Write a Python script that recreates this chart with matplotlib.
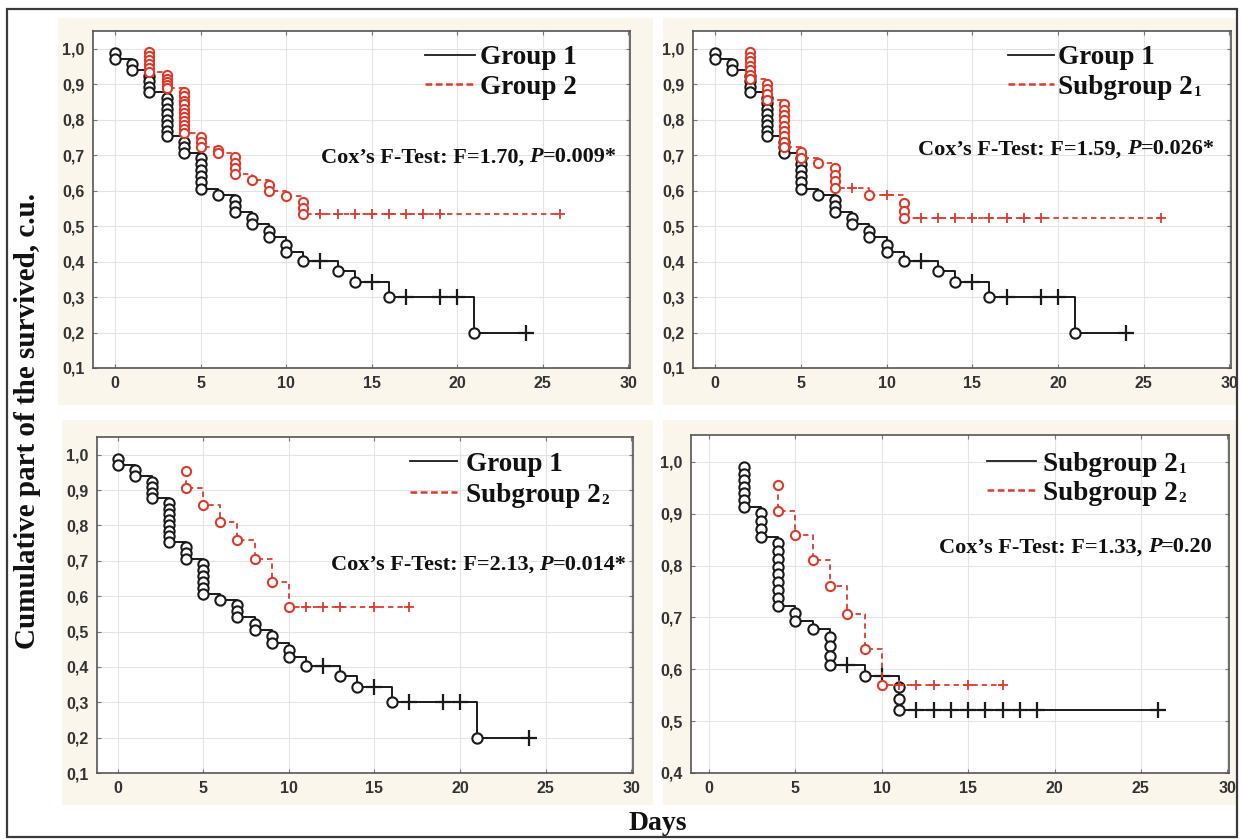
import matplotlib
matplotlib.use("Agg")
import matplotlib.pyplot as plt
from matplotlib import font_manager
from matplotlib.lines import Line2D
from matplotlib.patches import Rectangle

# ---------------- data ----------------
g1_event_t = [0, 0, 1, 1, 2, 2, 2, 2, 3, 3, 3, 3, 3, 3, 3, 3, 4, 4, 4,
              5, 5, 5, 5, 5, 5, 6, 7, 7, 7, 8, 8, 9, 9, 10, 10, 11, 13, 14, 16, 21]
g1_event_s = [0.987, 0.970, 0.956, 0.939, 0.923, 0.908, 0.892, 0.877,
              0.862, 0.846, 0.831, 0.815, 0.800, 0.785, 0.769, 0.754,
              0.738, 0.722, 0.706, 0.691, 0.674, 0.657, 0.640, 0.623, 0.606,
              0.588, 0.574, 0.557, 0.540, 0.522, 0.505, 0.486, 0.468,
              0.447, 0.427, 0.402, 0.373, 0.343, 0.300, 0.200]
g1_cens_t = [12, 15, 17, 19, 20, 24]
g1_cens_s = [0.402, 0.343, 0.300, 0.300, 0.300, 0.200]

g2_event_t = [2, 2, 2, 2, 2, 2, 3, 3, 3, 3, 3, 4, 4, 4, 4, 4, 4, 4, 4, 4, 4, 4,
              5, 5, 5, 6, 6, 7, 7, 7, 7, 8, 9, 9, 10, 11, 11, 11]
g2_event_s = [0.991, 0.980, 0.969, 0.957, 0.946, 0.935,
              0.925, 0.916, 0.907, 0.897, 0.888,
              0.877, 0.866, 0.854, 0.843, 0.831, 0.820, 0.808, 0.797, 0.785, 0.774, 0.763,
              0.752, 0.738, 0.724, 0.715, 0.705, 0.694, 0.679, 0.664, 0.648,
              0.630, 0.615, 0.600, 0.584, 0.569, 0.551, 0.533]
g2_cens_t = [12, 13, 14, 15, 16, 17, 18, 19, 26]
g2_cens_s = [0.533, 0.533, 0.533, 0.533, 0.533, 0.533, 0.533, 0.533, 0.533]

s21_event_t = [2, 2, 2, 2, 2, 2, 2, 3, 3, 3, 3, 4, 4, 4, 4, 4, 4, 4, 4, 4,
               5, 5, 6, 7, 7, 7, 7, 9, 11, 11, 11]
s21_event_s = [0.990, 0.977, 0.965, 0.952, 0.940, 0.927, 0.914,
               0.901, 0.886, 0.871, 0.856,
               0.843, 0.828, 0.813, 0.798, 0.783, 0.768, 0.753, 0.738, 0.723,
               0.709, 0.693, 0.677, 0.663, 0.645, 0.626, 0.608, 0.588,
               0.566, 0.543, 0.522]
s21_cens_t = [8, 10, 12, 13, 14, 15, 16, 17, 18, 19, 26]
s21_cens_s = [0.608, 0.588, 0.522, 0.522, 0.522, 0.522, 0.522, 0.522, 0.522, 0.522, 0.522]

s22_event_t = [4, 4, 5, 6, 7, 8, 9, 10]
s22_event_s = [0.955, 0.906, 0.859, 0.810, 0.760, 0.706, 0.640, 0.570]
s22_cens_t = [11, 12, 13, 15, 17]
s22_cens_s = [0.570, 0.570, 0.570, 0.570, 0.570]

x_ticks = [0, 5, 10, 15, 20, 25, 30]
x_tick_labels = ["0", "5", "10", "15", "20", "25", "30"]
y_ticks_full = [0.1, 0.2, 0.3, 0.4, 0.5, 0.6, 0.7, 0.8, 0.9, 1.0]
y_labels_full = ["0,1", "0,2", "0,3", "0,4", "0,5", "0,6", "0,7", "0,8", "0,9", "1,0"]
y_ticks_br = [0.4, 0.5, 0.6, 0.7, 0.8, 0.9, 1.0]
y_labels_br = ["0,4", "0,5", "0,6", "0,7", "0,8", "0,9", "1,0"]

cox_f = ["1.70", "1.59", "2.13", "1.33"]
cox_p = ["0.009*", "0.026*", "0.014*", "0.20"]

# ---------------- styling ----------------
W, H = 1242, 840
BLACK = "#1a1a1a"
RED = "#dc3b2c"
BEIGE = "#faf6ec"
SERIF = "Liberation Serif"
avail = {f.name for f in font_manager.fontManager.ttflist}
TICKFONT = "Liberation Sans Narrow" if "Liberation Sans Narrow" in avail else "Liberation Sans"

fig = plt.figure(figsize=(W / 100, H / 100), dpi=100)
fig.patch.set_facecolor("white")


def fx(x):
    return x / W


def fy(y):
    return 1 - y / H


# outer border
fig.patches.append(Rectangle((fx(7), fy(837)), fx(1237) - fx(7), fy(9) - fy(837),
                             transform=fig.transFigure, fill=False,
                             edgecolor="#3a3a3a", lw=1.6, zorder=-2))
# beige panels
for (x0, y0, x1, y1) in [(58, 18, 653, 405), (663, 18, 1236, 405),
                         (62, 420, 653, 805), (663, 420, 1236, 805)]:
    fig.patches.append(Rectangle((fx(x0), fy(y1)), fx(x1) - fx(x0), fy(y0) - fy(y1),
                                 transform=fig.transFigure, facecolor=BEIGE,
                                 edgecolor="none", zorder=-3))


def make_axes(left, right, top, bottom, xlim, ylim, yt, ytl):
    ax = fig.add_axes([fx(left), fy(bottom), fx(right) - fx(left), fy(top) - fy(bottom)])
    ax.set_zorder(1)
    ax.set_facecolor("white")
    ax.set_xlim(*xlim)
    ax.set_ylim(*ylim)
    ax.set_xticks(x_ticks)
    ax.set_xticklabels(x_tick_labels)
    ax.set_yticks(yt)
    ax.set_yticklabels(ytl)
    ax.grid(True, color="#e3e3e3", lw=0.8)
    ax.set_axisbelow(True)
    ax.tick_params(direction="in", length=3, width=0.8, color="#777777",
                   top=True, right=True, labelsize=11.5, labelcolor="#333333", pad=6)
    for lab in ax.get_xticklabels() + ax.get_yticklabels():
        lab.set_fontfamily(TICKFONT)
        lab.set_fontweight("bold")
    for sp in ax.spines.values():
        sp.set_color("#555555")
        sp.set_linewidth(1.2)
    return ax


def km(ax, ev_t, ev_s, ce_t, ce_s, color, dashed, ms, pms, pmew, z):
    pts = sorted(zip(list(ev_t) + list(ce_t), list(ev_s) + list(ce_s)),
                 key=lambda p: (p[0], -p[1]))
    tt = [p[0] for p in pts]
    ss = [p[1] for p in pts]
    if dashed:
        ax.plot(tt, ss, drawstyle="steps-post", color=color, lw=1.3,
                dashes=(3, 2.2), zorder=z)
    else:
        ax.plot(tt, ss, drawstyle="steps-post", color=color, lw=1.4, zorder=z)
    ax.plot(ev_t, ev_s, "o", ms=ms, mfc="white", mec=color, mew=1.5,
            ls="none", zorder=z + 1)
    ax.plot(ce_t, ce_s, "+", ms=pms, mec=color, mew=pmew, ls="none", zorder=z + 1)


renderer = fig.canvas.get_renderer()


def text_width(t):
    return t.get_window_extent(renderer).width


def legend(x_line0, x_line1, x_text, y1, y2, lab1, sub1, lab2, sub2):
    size = 19.5
    for (yy, lab, sub, dashed) in [(y1, lab1, sub1, False), (y2, lab2, sub2, True)]:
        if dashed:
            ln = Line2D([fx(x_line0), fx(x_line1)], [fy(yy), fy(yy)], transform=fig.transFigure,
                        color=RED, lw=1.8, dashes=(2.7, 1.4), zorder=5)
        else:
            ln = Line2D([fx(x_line0), fx(x_line1)], [fy(yy), fy(yy)], transform=fig.transFigure,
                        color=BLACK, lw=1.3, zorder=5)
        fig.lines.append(ln)
        t = fig.text(fx(x_text), fy(yy), lab, ha="left", va="center_baseline",
                     fontsize=size, fontweight="bold", family=SERIF, color="#111111", zorder=5)
        if sub:
            w = text_width(t)
            fig.text(fx(x_text + w + 1), fy(yy + 7), sub, ha="left", va="center_baseline",
                     fontsize=11, fontweight="bold", family=SERIF, color="#111111", zorder=5)


def cox(x_right, y, f, p):
    size = 16
    pieces = [("Cox\u2019s F-Test: F=" + f + ", ", "normal"), ("P", "italic"), ("=" + p, "normal")]
    objs = []
    for s, style in pieces:
        objs.append(fig.text(0, fy(y), s, ha="left", va="center_baseline", fontsize=size,
                             fontweight="bold", fontstyle=style, family=SERIF,
                             color="#111111", zorder=5))
    widths = [text_width(o) for o in objs]
    x = x_right - sum(widths)
    for o, w in zip(objs, widths):
        o.set_x(fx(x))
        x += w


# ---------------- panels ----------------
BMS, RMS = 7.4, 6.6
ax1 = make_axes(93, 630, 31, 368, (-1.3, 30.1), (0.1, 1.05), y_ticks_full, y_labels_full)
km(ax1, g1_event_t, g1_event_s, g1_cens_t, g1_cens_s, BLACK, False, BMS, 11, 1.6, 3)
km(ax1, g2_event_t, g2_event_s, g2_cens_t, g2_cens_s, RED, True, RMS, 6.5, 1.3, 5)

ax2 = make_axes(693, 1231, 31, 368, (-1.3, 30.1), (0.1, 1.05), y_ticks_full, y_labels_full)
km(ax2, g1_event_t, g1_event_s, g1_cens_t, g1_cens_s, BLACK, False, BMS, 11, 1.6, 3)
km(ax2, s21_event_t, s21_event_s, s21_cens_t, s21_cens_s, RED, True, RMS, 6.5, 1.3, 5)

ax3 = make_axes(97, 633, 437, 773, (-1.2, 30.1), (0.1, 1.05), y_ticks_full, y_labels_full)
km(ax3, g1_event_t, g1_event_s, g1_cens_t, g1_cens_s, BLACK, False, BMS, 11, 1.6, 3)
km(ax3, s22_event_t, s22_event_s, s22_cens_t, s22_cens_s, RED, True, RMS, 6.5, 1.3, 5)

ax4 = make_axes(691, 1229, 435, 773, (-1.05, 30.1), (0.4, 1.052), y_ticks_br, y_labels_br)
km(ax4, s21_event_t, s21_event_s, s21_cens_t, s21_cens_s, BLACK, False, BMS, 11, 1.6, 3)
km(ax4, s22_event_t, s22_event_s, s22_cens_t, s22_cens_s, RED, True, RMS, 6.5, 1.3, 5)

# legends
legend(425, 475, 480, 55, 84, "Group 1", None, "Group 2", None)
legend(1008, 1054, 1058, 55, 84, "Group 1", None, "Subgroup 2", "1")
legend(410, 457, 466, 461, 492, "Group 1", None, "Subgroup 2", "2")
legend(987, 1036, 1043, 461, 490, "Subgroup 2", "1", "Subgroup 2", "2")

# Cox tests
cox(617, 155, cox_f[0], cox_p[0])
cox(1215, 147, cox_f[1], cox_p[1])
cox(627, 562, cox_f[2], cox_p[2])
cox(1213, 545, cox_f[3], cox_p[3])

# shared axis labels
fig.text(fx(28), fy(421), "Cumulative part of the survived, c.u.", rotation=90,
         ha="center", va="center", fontsize=21, fontweight="bold", family=SERIF,
         color="#111111")
fig.text(fx(658), fy(823), "Days", ha="center", va="center", fontsize=20,
         fontweight="bold", family=SERIF, color="#111111")

fig.savefig("out.png", dpi=100, facecolor="white")
